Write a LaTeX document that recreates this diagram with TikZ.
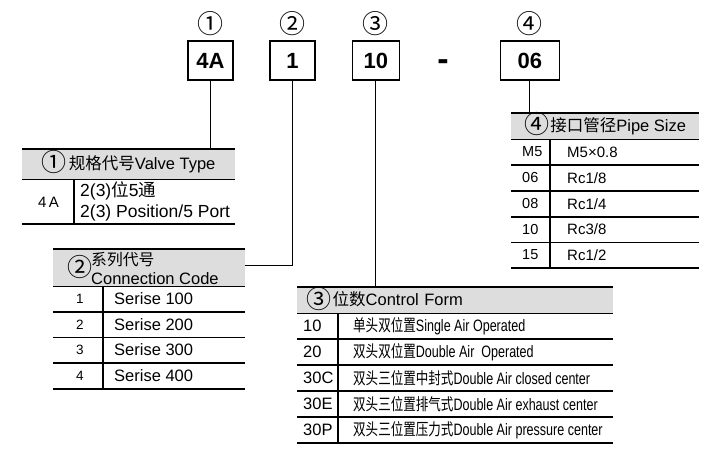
\documentclass[tikz,border=0pt]{standalone}
\usepackage{fontspec}
\setmainfont{Liberation Sans}
\newfontfamily\cjk{Noto Sans CJK SC}
\newfontfamily\narrowcjk{Noto Sans CJK SC}[FakeStretch=0.76]
\newfontfamily\narrowlat{Liberation Sans}[FakeStretch=0.76]
\newcommand\circd[2][-2.5pt]{\raisebox{#1}{\smash{\fontsize{25}{18}\selectfont\cjk #2}}}
\definecolor{headgray}{RGB}{221,221,221}
\tikzset{
  rule/.style={line width=1.1pt},
  codebox/.style={draw, line width=1.3pt, minimum width=45pt, minimum height=39pt,
    inner sep=0pt, font=\fontsize{22}{22}\selectfont\bfseries},
  circnum/.style={inner sep=0pt, font=\fontsize{26}{26}\selectfont\cjk},
  headbar/.style={fill=headgray, minimum height=26pt, inner sep=0pt, anchor=north west,
    font=\fontsize{16.5}{18}\selectfont},
  cell/.style={anchor=west, inner sep=0pt, font=\fontsize{16.5}{18}\selectfont},
  smallcell/.style={inner sep=0pt, font=\fontsize{13.5}{15}\selectfont},
}
\begin{document}
\begin{tikzpicture}[x=1pt, y=-1pt]
  \useasboundingbox (0,0) rectangle (718,460);
  \node[codebox] (b1) at (210.5,60.5) {4A};
  \node[codebox] (b2) at (292.5,60.5) {1};
  \node[codebox, minimum width=47pt] (b3) at (375.8,60.5) {10};
  \node[codebox, minimum width=59pt] (b4) at (529.8,60.5) {06};
  \node[inner sep=0pt, font=\fontsize{34}{34}\selectfont\bfseries] (dash) at (443,65) {-};
  \node[circnum] (n1) at (b1 |- 0,23.5) {①};
  \node[circnum] (n2) at (b2 |- 0,23.5) {②};
  \node[circnum] (n3) at (b3 |- 0,23.5) {③};
  \node[circnum] (n4) at (b4 |- 0,23.5) {④};

  \node[headbar, minimum width=213pt, minimum height=30pt] (h1) at (22,149)
    {\circd{①}\hspace{2pt}{\cjk 规格代号}Valve Type};
  \node[headbar, minimum width=192pt, minimum height=37pt] (h2) at (53,249) {};
  \node[circnum, font=\fontsize{25}{25}\selectfont\cjk] (h2n) at (80,267) {②};
  \node[cell, font=\fontsize{15.8}{16}\selectfont\cjk] (h2a) at (91,259.5) {系列代号};
  \node[cell, font=\fontsize{16.5}{16.5}\selectfont] (h2b) at (91,278.5) {Connection Code};
  \node[headbar, minimum width=316pt, text width=298pt, align=left] (h3) at (297,287)
    {\circd{③}\hspace{1.5pt}{\cjk 位数}Control Form};
  \node[headbar, minimum width=188pt] (h4) at (511,113)
    {\circd{④}\hspace{1pt}{\cjk 接口管径}Pipe Size};

  \begin{scope}[rule]
    \draw (b1.south) -- (b1.south |- h1.north);
    \draw (b2.south) |- ([yshift=2pt]h2.east);
    \draw (b3.south) -- (b3.south |- h3.north);
    \draw (b4.south) -- (b4.south |- h4.north);
    \draw (h1.north west) -- (h1.north east) (h1.south west) -- (h1.south east);
    \draw (h2.north west) -- (h2.north east) (h2.south west) -- (h2.south east);
    \draw (h3.north west) -- (h3.north east) (h3.south west) -- (h3.south east);
    \draw (h4.north west) -- (h4.north east) (h4.south west) -- (h4.south east);
    \draw (22,224) -- (235,224) (74,179) -- (74,224);
    \draw (53,312) -- (245,312) (53,337.5) -- (245,337.5) (53,363) -- (245,363)
      (53,389) -- (245,389) (103,286) -- (103,389);
    \draw (297,339) -- (613,339) (297,365) -- (613,365) (297,391) -- (613,391)
      (297,417) -- (613,417) (297,443) -- (613,443) (338,313) -- (338,443);
    \draw (511,165) -- (699,165) (511,191) -- (699,191) (511,217) -- (699,217)
      (511,242.5) -- (699,242.5) (511,268) -- (699,268) (550,139) -- (550,268);
  \end{scope}

  \node[smallcell, font=\fontsize{15}{16}\selectfont] (c1) at (48.5,202) {4\,A};
  \node[cell, align=left, font=\fontsize{17.5}{21}\selectfont] (d1) at (80,201.5)
    {2(3){\cjk 位}5{\cjk 通}\\2(3) Position/5 Port};

  \node[smallcell] (c21) at (80,299) {1};
  \node[smallcell] (c22) at (80,325) {2};
  \node[smallcell] (c23) at (80,350) {3};
  \node[smallcell] (c24) at (80,376) {4};
  \node[cell] (d21) at (114,299) {Serise 100};
  \node[cell] (d22) at (114,325) {Serise 200};
  \node[cell] (d23) at (114,350) {Serise 300};
  \node[cell] (d24) at (114,376) {Serise 400};

  \node[cell] (c31) at (303,326) {10};
  \node[cell] (c32) at (303,352) {20};
  \node[cell] (c33) at (303,378) {30C};
  \node[cell] (c34) at (303,404) {30E};
  \node[cell] (c35) at (303,430) {30P};
  \node[cell] (d31) at (353,326) {{\narrowcjk 单头双位置}{\narrowlat Single Air Operated}};
  \node[cell] (d32) at (353,352) {{\narrowcjk 双头双位置}{\narrowlat Double Air\ \ Operated}};
  \node[cell] (d33) at (353,378) {{\narrowcjk 双头三位置中封式}{\narrowlat Double Air closed center}};
  \node[cell] (d34) at (353,404) {{\narrowcjk 双头三位置排气式}{\narrowlat Double Air exhaust center}};
  \node[cell] (d35) at (353,430) {{\narrowcjk 双头三位置压力式}{\narrowlat Double Air pressure center}};

  \node[cell, font=\fontsize{14.5}{16}\selectfont] (c41) at (522,152) {M5};
  \node[cell, font=\fontsize{14.5}{16}\selectfont] (c42) at (522,178) {06};
  \node[cell, font=\fontsize{14.5}{16}\selectfont] (c43) at (522,204) {08};
  \node[cell, font=\fontsize{14.5}{16}\selectfont] (c44) at (522,229.5) {10};
  \node[cell, font=\fontsize{14.5}{16}\selectfont] (c45) at (522,255) {15};
  \node[cell, font=\fontsize{15}{16}\selectfont] (d41) at (567,152) {M5×0.8};
  \node[cell, font=\fontsize{15}{16}\selectfont] (d42) at (567,178) {Rc1/8};
  \node[cell, font=\fontsize{15}{16}\selectfont] (d43) at (567,204) {Rc1/4};
  \node[cell, font=\fontsize{15}{16}\selectfont] (d44) at (567,229.5) {Rc3/8};
  \node[cell, font=\fontsize{15}{16}\selectfont] (d45) at (567,255) {Rc1/2};
\end{tikzpicture}
\end{document}
